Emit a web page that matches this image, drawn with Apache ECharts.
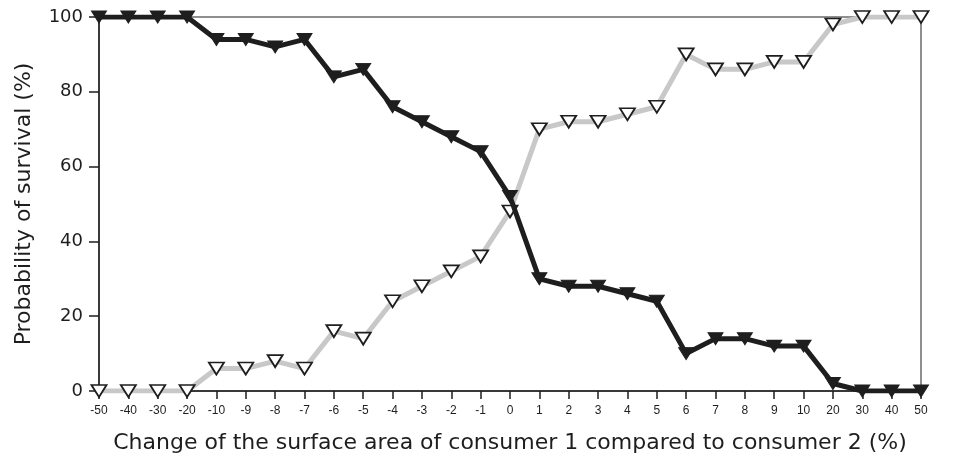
<!DOCTYPE html>
<html>
<head>
<meta charset="utf-8">
<script src="https://cdn.jsdelivr.net/npm/echarts@6/dist/echarts.min.js"></script>
<style>
  html, body { margin: 0; padding: 0; background: #fff; }
  #chart { width: 955px; height: 459px; }
</style>
</head>
<body>
<div id="chart"></div>
<script>
// change of surface area (%) - one category per measured step
var categories = ['-50', '-40', '-30', '-20', '-10', '-9', '-8', '-7', '-6', '-5', '-4', '-3', '-2', '-1',
  '0', '1', '2', '3', '4', '5', '6', '7', '8', '9', '10', '20', '30', '40', '50'];

// survival probability (%) of the two consumers
var consumer1 = [100, 100, 100, 100, 94, 94, 92, 94, 84, 86, 76, 72, 68, 64,
  52, 30, 28, 28, 26, 24, 10, 14, 14, 12, 12, 2, 0, 0, 0];
var consumer2 = [0, 0, 0, 0, 6, 6, 8, 6, 16, 14, 24, 28, 32, 36,
  48, 70, 72, 72, 74, 76, 90, 86, 86, 88, 88, 98, 100, 100, 100];

var yTicks = [0, 20, 40, 60, 80, 100];

var font = 'Liberation Sans, Arial, sans-serif';
var wideFont = 'DejaVu Sans, sans-serif';
var ink = '#1e1e1e';

var chart = echarts.init(document.getElementById('chart'));

chart.setOption({
  animation: false,
  backgroundColor: '#fff',
  grid: {
    left: 99, right: 34, top: 17, bottom: 68,
    outerBoundsMode: 'none',
    show: true, borderColor: ink, borderWidth: 1
  },
  xAxis: {
    type: 'category',
    data: categories,
    boundaryGap: false,
    name: 'Change of the surface area of consumer 1 compared to consumer 2 (%)',
    nameLocation: 'middle',
    nameGap: 41,
    nameTextStyle: { fontFamily: wideFont, fontSize: 22, color: ink },
    axisLine: { lineStyle: { color: ink, width: 1.5 } },
    axisTick: { length: 8, lineStyle: { color: ink, width: 1.5 } },
    axisLabel: { fontFamily: font, fontSize: 12, color: ink, margin: 14, interval: 0 },
    splitLine: { show: false }
  },
  yAxis: {
    type: 'value',
    min: 0, max: 100, interval: 20,
    name: 'Probability of survival (%)',
    nameLocation: 'middle',
    nameGap: 64,
    nameTextStyle: { fontFamily: wideFont, fontSize: 22, color: ink },
    axisLine: { show: true, lineStyle: { color: ink, width: 1.5 } },
    axisTick: { show: true, length: 10, lineStyle: { color: ink, width: 1.5 } },
    axisLabel: {
      fontFamily: wideFont, fontSize: 18, color: ink, margin: 16,
      formatter: function (v) { return yTicks.indexOf(v) >= 0 ? String(v) : ''; }
    },
    splitLine: { show: false }
  },
  series: [
    {
      name: 'consumer 2',
      type: 'line',
      data: consumer2,
      symbol: 'triangle',
      symbolRotate: 180,
      symbolSize: [15, 12],
      showAllSymbol: true,
      lineStyle: { color: '#c8c8c8', width: 5 },
      itemStyle: { color: '#fff', borderColor: ink, borderWidth: 1.8 },
      z: 3
    },
    {
      name: 'consumer 1',
      type: 'line',
      data: consumer1,
      symbol: 'triangle',
      symbolRotate: 180,
      symbolSize: [15, 12],
      showAllSymbol: true,
      lineStyle: { color: ink, width: 5 },
      itemStyle: { color: ink, borderColor: ink, borderWidth: 1 },
      z: 4
    }
  ]
});
</script>
</body>
</html>
